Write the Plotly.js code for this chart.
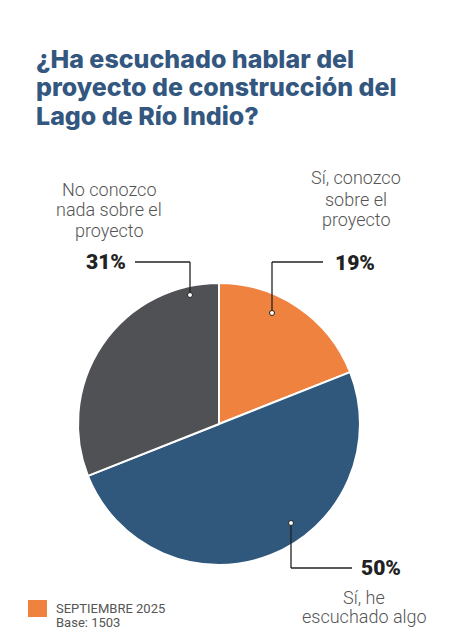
<!DOCTYPE html>
<html><head><meta charset="utf-8">
<script src="https://cdn.plot.ly/plotly-3.0.1.min.js"></script>
<style>html,body{margin:0;padding:0;background:#fff}#c{width:471px;height:643px}</style>
</head><body><div id="c"></div>
<script>
const categories = ["Sí, conozco sobre el proyecto", "Sí, he escuchado algo", "No conozco nada sobre el proyecto"];
const labelLines = [["Sí, conozco","sobre el","proyecto"], ["Sí, he","escuchado algo"], ["No conozco","nada sobre el","proyecto"]];
const values = [19, 50, 31];
const colors = ["#f0823f", "#30587d", "#4f5154"];
const titleLines = ["¿Ha escuchado hablar del", "proyecto de construcción del", "Lago de Río Indio?"];
const seriesName = "SEPTIEMBRE 2025";
const baseNote = "Base: 1503";

const W = 471, H = 643;
const px = x => x / W, py = y => 1 - y / H;

const trace = {
  type: "pie", values: values, labels: categories, sort: false,
  direction: "clockwise", rotation: 0, textinfo: "none", hoverinfo: "label+percent",
  marker: {colors: colors, line: {color: "#ffffff", width: 2}},
  domain: {x: [px(78), px(360)], y: [py(565), py(283)]},
  showlegend: false
};

const lineCol = "#222222";
function seg(x0,y0,x1,y1){return {type:"line",xref:"paper",yref:"paper",x0:px(x0),y0:py(y0),x1:px(x1),y1:py(y1),line:{color:lineCol,width:1.3}};}
function dot(x,y){return {type:"circle",xref:"paper",yref:"paper",x0:px(x-2.5),y0:py(y-2.5),x1:px(x+2.5),y1:py(y+2.5),fillcolor:"#ffffff",line:{color:lineCol,width:1}};}

const shapes = [
  seg(272,262,323,262), seg(272,262,272,313), dot(272,313),
  seg(135,262,190,262), seg(190,262,190,295), dot(190,295),
  seg(291,523,291,568), seg(291,568,352,568), dot(291,523),
  {type:"rect",xref:"paper",yref:"paper",x0:px(28),x1:px(47),y0:py(617),y1:py(600),fillcolor:colors[0],line:{width:0}}
];

const descFont = {family:"Roboto", size:18, color:"#555555", weight:300};
const pctFont = {family:"Roboto", size:21, color:"#222222", weight:900};
function ann(text,x,y,font,xa){return {text:text,xref:"paper",yref:"paper",x:px(x),y:py(y),xanchor:xa||"center",yanchor:"middle",showarrow:false,font:font,align:"center"};}

const annotations = [];
function block(lines,x,y0,step,font,xa){lines.forEach((t,i)=>annotations.push(ann(t,x,y0+i*step,font,xa)));}
block(labelLines[2],109,189,20.5,descFont);
block(labelLines[0],356,178,21,descFont);
block(labelLines[1],364,597,19,descFont);
annotations.push(ann(values[2]+"%",106,262,pctFont));
annotations.push(ann(values[0]+"%",355,263,pctFont));
annotations.push(ann(values[1]+"%",381,568,pctFont));
block([seriesName, baseNote],54,608,14.5,{family:"Roboto",size:13,color:"#555555"},"left");
block(titleLines,34,59,28.5,{family:"Inter", size:25, color:"#33577f", weight:800},"left");

const layout = {
  width: W, height: H, margin: {l:0,r:0,t:0,b:0},
  paper_bgcolor:"#ffffff", plot_bgcolor:"#ffffff",
  shapes: shapes, annotations: annotations
};
Plotly.newPlot("c",[trace],layout,{displayModeBar:false,staticPlot:true});
</script></body></html>
